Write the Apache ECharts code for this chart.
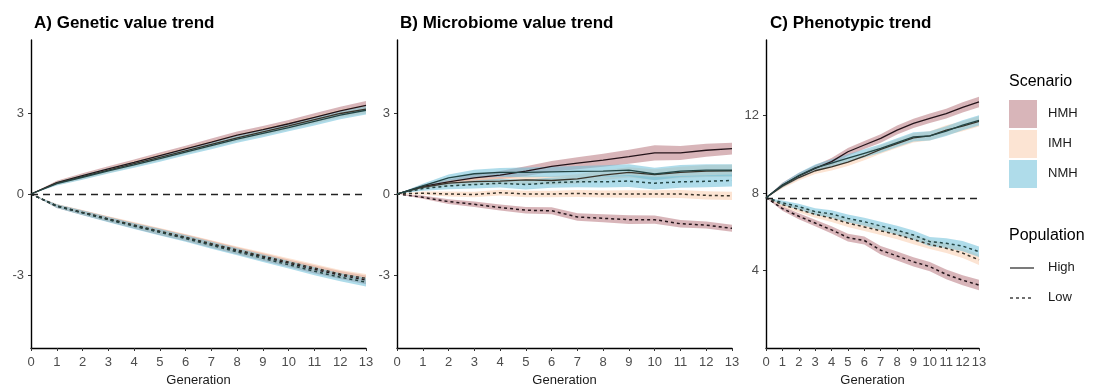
<!DOCTYPE html>
<html>
<head>
<meta charset="utf-8">
<script src="https://cdn.jsdelivr.net/npm/echarts@6/dist/echarts.min.js"></script>
<style>
  html, body { margin: 0; padding: 0; background: #fff; }
  #chart { width: 1094px; height: 388px; }
</style>
</head>
<body>
<div id="chart"></div>
<script>
// generations on the x axis
const gens = ['0', '1', '2', '3', '4', '5', '6', '7', '8', '9', '10', '11', '12', '13'];

// A) genetic value trend (mean, band half width)
const aHmhHigh = [0, 0.42, 0.68, 0.93, 1.17, 1.42, 1.67, 1.92, 2.18, 2.38, 2.60, 2.84, 3.08, 3.28];
const aImhHigh = [0, 0.40, 0.64, 0.88, 1.12, 1.36, 1.60, 1.84, 2.08, 2.30, 2.52, 2.75, 2.98, 3.14];
const aNmhHigh = [0, 0.38, 0.62, 0.86, 1.08, 1.31, 1.55, 1.79, 2.03, 2.24, 2.46, 2.69, 2.92, 3.10];
const aHmhLow = [0, -0.45, -0.69, -0.93, -1.17, -1.40, -1.62, -1.86, -2.10, -2.33, -2.56, -2.79, -3.00, -3.18];
const aImhLow = [0, -0.44, -0.68, -0.92, -1.15, -1.38, -1.60, -1.84, -2.07, -2.30, -2.52, -2.74, -2.96, -3.12];
const aNmhLow = [0, -0.45, -0.70, -0.95, -1.19, -1.42, -1.65, -1.90, -2.14, -2.38, -2.62, -2.86, -3.08, -3.26];
const aSe = [0, 0.07, 0.09, 0.1, 0.11, 0.12, 0.12, 0.13, 0.13, 0.14, 0.14, 0.15, 0.15, 0.16];

// B) microbiome value trend
const bHmhHigh = [0, 0.28, 0.45, 0.60, 0.70, 0.85, 1.02, 1.14, 1.25, 1.38, 1.52, 1.52, 1.62, 1.68];
const bImhHigh = [0, 0.25, 0.40, 0.46, 0.48, 0.52, 0.50, 0.56, 0.70, 0.80, 0.72, 0.80, 0.85, 0.86];
const bNmhHigh = [0, 0.30, 0.60, 0.75, 0.80, 0.80, 0.82, 0.84, 0.85, 0.88, 0.74, 0.85, 0.88, 0.88];
const bHmhLow = [0, -0.12, -0.28, -0.38, -0.50, -0.60, -0.62, -0.85, -0.90, -0.95, -0.95, -1.10, -1.15, -1.27];
const bImhLow = [0, 0.03, 0.00, -0.02, 0.05, 0.00, 0.00, 0.02, 0.00, 0.00, 0.00, 0.00, -0.05, -0.07];
const bNmhLow = [0, 0.20, 0.30, 0.35, 0.40, 0.35, 0.42, 0.45, 0.45, 0.48, 0.40, 0.45, 0.47, 0.50];
const bSeHmhHigh = [0, 0.07, 0.1, 0.13, 0.15, 0.18, 0.2, 0.22, 0.24, 0.26, 0.28, 0.26, 0.24, 0.22];
const bSeImhHigh = [0, 0.07, 0.1, 0.13, 0.14, 0.15, 0.16, 0.17, 0.18, 0.19, 0.2, 0.21, 0.22, 0.22];
const bSeNmhHigh = [0, 0.08, 0.12, 0.15, 0.16, 0.18, 0.19, 0.2, 0.21, 0.22, 0.23, 0.22, 0.22, 0.22];
const bSeHmhLow = [0, 0.06, 0.09, 0.1, 0.11, 0.12, 0.13, 0.14, 0.15, 0.16, 0.15, 0.14, 0.13, 0.13];
const bSeImhLow = [0, 0.06, 0.09, 0.1, 0.11, 0.12, 0.12, 0.13, 0.13, 0.14, 0.14, 0.15, 0.15, 0.15];
const bSeNmhLow = [0, 0.08, 0.12, 0.15, 0.16, 0.18, 0.19, 0.2, 0.21, 0.22, 0.23, 0.22, 0.22, 0.22];

// C) phenotypic trend
const cHmhHigh = [7.76, 8.41, 8.88, 9.27, 9.62, 10.13, 10.48, 10.82, 11.25, 11.60, 11.86, 12.10, 12.42, 12.70];
const cImhHigh = [7.76, 8.35, 8.80, 9.15, 9.35, 9.60, 9.90, 10.25, 10.55, 10.85, 10.95, 11.25, 11.45, 11.70];
const cNmhHigh = [7.76, 8.40, 8.90, 9.30, 9.55, 9.80, 10.05, 10.30, 10.60, 10.90, 10.95, 11.20, 11.50, 11.75];
const cHmhLow = [7.76, 7.20, 6.80, 6.45, 6.10, 5.70, 5.55, 5.05, 4.75, 4.45, 4.20, 3.80, 3.50, 3.25];
const cImhLow = [7.76, 7.40, 7.15, 6.90, 6.70, 6.45, 6.25, 6.05, 5.85, 5.60, 5.35, 5.15, 4.90, 4.55];
const cNmhLow = [7.76, 7.50, 7.30, 7.04, 6.92, 6.69, 6.52, 6.30, 6.08, 5.83, 5.49, 5.41, 5.26, 4.97];
const cSe = [0, 0.12, 0.15, 0.17, 0.19, 0.2, 0.21, 0.22, 0.23, 0.24, 0.24, 0.25, 0.26, 0.27];

// reference lines
const refA = 0;
const refC = 7.75;

const scenarios = ['HMH', 'IMH', 'NMH'];
const fillColors = { HMH: 'rgb(184,120,128)', IMH: 'rgb(250,205,175)', NMH: 'rgb(110,192,216)' };
const lineColors = { HMH: '#24141a', IMH: '#3a342a', NMH: '#234544' };

const chart = echarts.init(document.getElementById('chart'));

const grids = [
  { left: 31, right: 728, top: 40, bottom: 40, outerBoundsMode: 'none' },
  { left: 397, right: 362, top: 40, bottom: 40, outerBoundsMode: 'none' },
  { left: 766, right: 115, top: 40, bottom: 40, outerBoundsMode: 'none' }
];

const fontFam = 'Liberation Sans, Arial, sans-serif';
const labelStyle = { color: '#4d4d4d', fontSize: 13, fontFamily: fontFam };

const xAxes = grids.map((g, i) => ({
  type: 'category',
  gridIndex: i,
  data: gens,
  boundaryGap: false,
  name: 'Generation',
  nameLocation: 'middle',
  nameGap: 26,
  nameTextStyle: { color: '#1a1a1a', fontSize: 13, fontFamily: fontFam },
  axisLine: { onZero: false, lineStyle: { color: '#000', width: 1.4 } },
  axisTick: { show: true, length: 3, interval: 0, alignWithLabel: true, lineStyle: { color: '#333' } },
  axisLabel: Object.assign({ interval: 0, margin: 8, hideOverlap: false }, labelStyle),
  splitLine: { show: false }
}));

function yAxis(i, min, max, ticks) {
  return {
    type: 'value',
    gridIndex: i,
    min: min,
    max: max,
    axisLine: { show: true, onZero: false, lineStyle: { color: '#000', width: 1.4 } },
    axisTick: { show: true, length: 3, customValues: ticks, lineStyle: { color: '#333' } },
    axisLabel: Object.assign({ customValues: ticks, margin: 7 }, labelStyle),
    splitLine: { show: false }
  };
}

const yAxes = [
  yAxis(0, -5.7, 5.7, [-3, 0, 3]),
  yAxis(1, -5.7, 5.7, [-3, 0, 3]),
  yAxis(2, 0, 15.9, [4, 8, 12])
];

const series = [];
let stackId = 0;

function band(gi, scen, mean, se) {
  const id = 'band' + (stackId++);
  const lower = mean.map((m, k) => m - se[k]);
  const width = se.map(s => 2 * s);
  series.push({
    type: 'line', xAxisIndex: gi, yAxisIndex: gi, stack: id, stackStrategy: 'all',
    data: lower, symbol: 'none', silent: true, lineStyle: { opacity: 0 }, z: 1
  });
  series.push({
    type: 'line', xAxisIndex: gi, yAxisIndex: gi, stack: id, stackStrategy: 'all',
    data: width, symbol: 'none', silent: true, lineStyle: { opacity: 0 },
    areaStyle: { color: fillColors[scen], opacity: 0.55 }, z: 1
  });
}

function trend(gi, scen, mean, dashed) {
  series.push({
    type: 'line', xAxisIndex: gi, yAxisIndex: gi, data: mean, symbol: 'none', silent: true,
    lineStyle: { color: lineColors[scen], width: dashed ? 1.5 : 1.3, type: dashed ? [3, 3] : 'solid' }, z: 3
  });
}

const panelData = [
  [[aHmhHigh, aSe, aHmhLow, aSe], [aImhHigh, aSe, aImhLow, aSe], [aNmhHigh, aSe, aNmhLow, aSe]],
  [[bHmhHigh, bSeHmhHigh, bHmhLow, bSeHmhLow], [bImhHigh, bSeImhHigh, bImhLow, bSeImhLow], [bNmhHigh, bSeNmhHigh, bNmhLow, bSeNmhLow]],
  [[cHmhHigh, cSe, cHmhLow, cSe], [cImhHigh, cSe, cImhLow, cSe], [cNmhHigh, cSe, cNmhLow, cSe]]
];

panelData.forEach((panel, gi) => {
  panel.forEach((d, si) => {
    band(gi, scenarios[si], d[0], d[1]);
    band(gi, scenarios[si], d[2], d[3]);
  });
  panel.forEach((d, si) => {
    trend(gi, scenarios[si], d[0], false);
    trend(gi, scenarios[si], d[2], true);
  });
});

// horizontal dashed reference lines
[[0, refA], [2, refC]].forEach(([gi, v]) => {
  series.push({
    type: 'line', xAxisIndex: gi, yAxisIndex: gi, data: [], silent: true, z: 2,
    markLine: {
      silent: true, symbol: 'none', label: { show: false },
      lineStyle: { color: '#222', width: 1.4, type: [7, 5] },
      data: [{ yAxis: v }]
    }
  });
});

const titleFont = { fontSize: 17, fontWeight: 'bold', color: '#000', fontFamily: fontFam };

const graphic = [
  { type: 'text', left: 1009, top: 74, style: { text: 'Scenario', fontSize: 16, fill: '#000', fontFamily: fontFam } },
  { type: 'text', left: 1009, top: 228, style: { text: 'Population', fontSize: 16, fill: '#000', fontFamily: fontFam } }
];
scenarios.forEach((s, i) => {
  graphic.push({ type: 'rect', shape: { x: 1009, y: 100 + i * 30, width: 28, height: 28 },
    style: { fill: fillColors[s], opacity: 0.55 } });
  graphic.push({ type: 'text', left: 1048, top: 107 + i * 30,
    style: { text: s, fontSize: 13, fill: '#1a1a1a', fontFamily: fontFam } });
});
graphic.push({ type: 'line', shape: { x1: 1010, y1: 268, x2: 1034, y2: 268 }, style: { stroke: '#333', lineWidth: 1.3 } });
graphic.push({ type: 'line', shape: { x1: 1010, y1: 298, x2: 1034, y2: 298 }, style: { stroke: '#333', lineWidth: 1.4, lineDash: [3, 3] } });
graphic.push({ type: 'text', left: 1048, top: 261, style: { text: 'High', fontSize: 13, fill: '#1a1a1a', fontFamily: fontFam } });
graphic.push({ type: 'text', left: 1048, top: 291, style: { text: 'Low', fontSize: 13, fill: '#1a1a1a', fontFamily: fontFam } });

chart.setOption({
  animation: false,
  backgroundColor: '#fff',
  title: [
    { text: 'A) Genetic value trend', left: 29, top: 10, textStyle: titleFont },
    { text: 'B) Microbiome value trend', left: 395, top: 10, textStyle: titleFont },
    { text: 'C) Phenotypic trend', left: 765, top: 10, textStyle: titleFont }
  ],
  grid: grids,
  xAxis: xAxes,
  yAxis: yAxes,
  series: series,
  graphic: graphic
});
</script>
</body>
</html>
